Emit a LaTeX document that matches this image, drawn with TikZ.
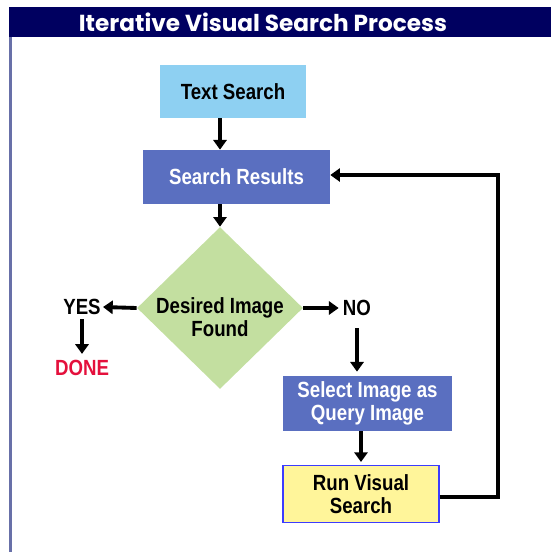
\documentclass[tikz,border=0pt]{standalone}
\usepackage{fontspec}
\setmainfont{Liberation Sans}
\newfontfamily\titlefont{Poppins}
\newfontfamily\boxfont[FakeStretch=0.85]{Liberation Sans}
\usetikzlibrary{arrows.meta,shapes.geometric,calc}
\definecolor{TitleClr}{RGB}{0,0,96}
\definecolor{FrameClr}{RGB}{104,112,168}
\definecolor{QueryClr}{RGB}{142,208,242}
\definecolor{ResultClr}{RGB}{90,111,192}
\definecolor{DecisionClr}{RGB}{195,223,160}
\definecolor{RunClr}{RGB}{255,245,154}
\definecolor{RunEdgeClr}{RGB}{60,60,255}
\definecolor{DoneClr}{RGB}{228,16,60}

\tikzset{
  boxtext/.style={font=\boxfont\bfseries\fontsize{12.5}{13}\selectfont,align=center,inner sep=0pt},
  lightbox/.style={boxtext,fill=QueryClr,text=black},
  darkbox/.style={boxtext,fill=ResultClr,text=white},
  runbox/.style={boxtext,fill=RunClr,draw=RunEdgeClr,line width=0.6pt,text=black},
  decision/.style={diamond,fill=DecisionClr,inner sep=0pt,minimum width=3.32cm,minimum height=3.24cm},
  arr/.style={line width=2.2pt,-{Triangle[length=5.5pt,width=7.5pt]}},
}

\begin{document}
\begin{tikzpicture}[x=0.02cm,y=-0.02cm]
\useasboundingbox (0,0) rectangle (551,552);

% title bar and frame
\fill[TitleClr] (9,7) rectangle (551,37);
\draw[FrameClr,line width=1.2pt] (10.5,37) -- (10.5,552);
\node[text=white,font=\titlefont\bfseries\fontsize{13.2}{15}\selectfont] (title) at (263,22) {Iterative Visual Search Process};

% boxes
\node[lightbox,minimum width=2.92cm,minimum height=1.06cm] (ts) at (233,91.5) {Text Search};
\node[darkbox,minimum width=3.74cm,minimum height=1.08cm] (sr) at (236.5,177) {Search Results};
\node[decision] (dia) at (220,308) {};
\node[boxtext] (diatext) at (220,317) {Desired Image\\Found};
\node[darkbox,minimum width=3.38cm,minimum height=1.10cm] (sel) at (367.5,403.5) {Select Image as\\Query Image};
\node[runbox,minimum width=3.12cm,minimum height=1.14cm] (run) at (361,494) {Run Visual\\Search};

% answers
\node[boxtext] (yes) at (82,307) {YES};
\node[boxtext,text=DoneClr] (done) at (82,368) {DONE};
\node[boxtext] (no) at (357,308) {NO};
\coordinate (loopa) at (498,497);
\coordinate (loopb) at (498,175);

% connectors
\draw[arr] (ts.south -| dia.north) -- (sr.north -| dia.north);
\draw[arr] (sr.south -| dia.north) -- (dia.north);
\draw[arr] (dia.west) -- ($(yes.east)+(2,0)$);
\draw[arr] ($(yes.south)+(0,4)$) -- ($(done.north)+(0,-6)$);
\draw[arr] (dia.east) -- ($(no.west)+(-4,0)$);
\draw[arr] ($(no.south)+(0,12)$) -- ($(sel.north -| no.south)+(0,-4)$);
\draw[arr] (sel.south -| run.north) -- ($(run.north)+(0,-3)$);
\draw[arr] (run.east |- loopa) -- (loopa) -- (loopb) -- (loopb -| sr.east);

\end{tikzpicture}
\end{document}
